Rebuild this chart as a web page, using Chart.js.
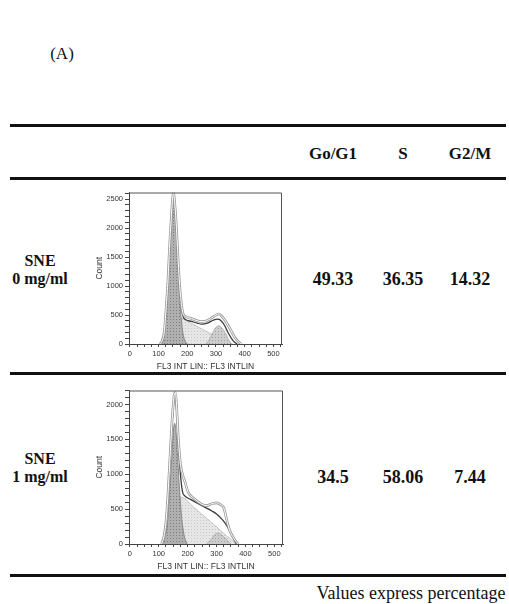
<!DOCTYPE html>
<html>
<head>
<meta charset="utf-8">
<script src="https://cdn.jsdelivr.net/npm/chart.js@4.4.1/dist/chart.umd.min.js"></script>
<style>
body { margin: 0; background: #fff; width: 509px; height: 604px; position: relative; overflow: hidden;
       font-family: "Liberation Serif", "Times New Roman", serif; color: #111; }
.t { position: absolute; white-space: nowrap; transform: translate(-50%, -50%); line-height: 1; }
.b { font-weight: bold; }
.rule { position: absolute; left: 10px; width: 496px; height: 3px; background: #111; }
canvas { position: absolute; }
</style>
</head>
<body>
<div class="t" style="left:62px;top:53px;font-size:17px">(A)</div>
<div class="rule" style="top:124px"></div>
<div class="rule" style="top:177px"></div>
<div class="rule" style="top:372px"></div>
<div class="rule" style="top:574px"></div>
<div class="t" style="left:411px;top:593px;font-size:18px">Values express percentage</div>
<div id="cells"></div>
<canvas id="hist0" width="205" height="186" style="left:85px;top:186px"></canvas>
<canvas id="hist1" width="205" height="188" style="left:85px;top:384px"></canvas>
<script>
// table text
const phases = ['Go/G1', 'S', 'G2/M'];
const samples = [['SNE', '0 mg/ml'], ['SNE', '1 mg/ml']];
const percent0 = ['49.33', '36.35', '14.32'];
const percent1 = ['34.5', '58.06', '7.44'];

// histogram points [channel, count]
// SNE 0 mg/ml
const g1Peak0 = [[108,0],[115,60],[120,180],[126,500],[133,1000],[138,1500],[144,2000],[148,2350],[152,2580],[156,2350],[161,2000],[166,1500],[171,1000],[178,500],[183,250],[190,80],[200,0]];
const sPhase0 = [[112,0],[125,80],[141,216],[160,360],[181,445],[200,395],[250,263],[300,132],[340,26],[350,0]];
const g2Peak0 = [[265,0],[275,60],[290,210],[300,290],[310,313],[320,280],[335,170],[345,70],[356,0]];
const fitLine0 = [[105,0],[112,40],[120,200],[126,560],[133,1080],[138,1600],[144,2100],[148,2420],[152,2600],[156,2400],[161,2080],[166,1620],[171,1150],[178,700],[185,480],[195,420],[215,390],[235,360],[251,342],[270,360],[290,410],[305,430],[315,415],[330,320],[340,216],[355,90],[365,30],[374,0]];
const rawLine0 = [[105,0],[112,50],[120,220],[126,600],[133,1120],[138,1650],[144,2150],[148,2460],[152,2620],[156,2450],[161,2120],[166,1660],[171,1200],[178,760],[185,530],[195,470],[215,440],[235,400],[250,388],[265,395],[285,450],[300,500],[310,519],[320,480],[335,380],[351,245],[365,120],[378,40],[388,0]];
// SNE 1 mg/ml
const g1Peak1 = [[112,0],[120,80],[130,300],[138,780],[145,1250],[150,1600],[155,1730],[160,1600],[166,1200],[172,780],[180,350],[188,120],[198,0]];
const sPhase1 = [[115,0],[130,120],[145,330],[160,520],[179,671],[220,530],[260,390],[300,246],[340,100],[370,0]];
const g2Peak1 = [[265,0],[280,60],[295,140],[305,157],[318,130],[335,60],[350,0]];
const fitLine1 = [[110,0],[118,100],[125,300],[132,700],[140,1300],[148,1850],[155,2120],[158,2150],[162,1900],[168,1400],[175,1000],[182,750],[190,690],[210,640],[240,570],[265,515],[285,470],[300,430],[320,350],[334,272],[350,150],[362,50],[369,0]];
const rawLine1 = [[110,0],[118,110],[125,320],[132,720],[140,1330],[148,1880],[154,2150],[158,2170],[162,1950],[168,1500],[175,1150],[182,1000],[190,900],[202,740],[220,660],[245,580],[265,550],[285,580],[300,590],[315,560],[325,520],[335,350],[345,200],[360,80],[375,0]];

const countMax = [2615, 2200];

// build table cells
const cells = document.getElementById('cells');
function cell(txt, x, y, size) {
    const d = document.createElement('div');
    d.className = 't b';
    d.style.left = x + 'px';
    d.style.top = y + 'px';
    d.style.fontSize = size + 'px';
    d.textContent = txt;
    cells.appendChild(d);
}
const colX = [333, 403, 470];
phases.forEach((p, i) => cell(p, colX[i], 153, 17));
[percent0, percent1].forEach((row, r) => {
    const y = r === 0 ? 279 : 477;
    row.forEach((v, i) => cell(v, colX[i], y, 18));
    cell(samples[r][0], 40, y - 18, 16);
    cell(samples[r][1], 40, y, 16);
});

function stipple(base, dot) {
    const c = document.createElement('canvas');
    c.width = 3;
    c.height = 3;
    const g = c.getContext('2d');
    g.fillStyle = base;
    g.fillRect(0, 0, 3, 3);
    g.fillStyle = dot;
    g.fillRect(1, 1, 1, 1);
    return g.createPattern(c, 'repeat');
}

const pts = arr => arr.map(p => ({x: p[0], y: p[1]}));

const frame = {
    id: 'frame',
    afterDraw(chart) {
        const a = chart.chartArea, c = chart.ctx;
        c.save();
        c.strokeStyle = '#555';
        c.lineWidth = 1;
        c.beginPath();
        c.moveTo(a.left, a.top + 0.5);
        c.lineTo(a.right - 0.5, a.top + 0.5);
        c.lineTo(a.right - 0.5, a.bottom);
        c.stroke();
        c.restore();
    },
};

const tickFont = {family: 'Liberation Sans', size: 7.5};

function showHistogram(id, yMax, g1, s, g2, fit, raw, padRight, padTop) {
    const line = {pointRadius: 0, cubicInterpolationMode: 'monotone'};
    return new Chart(document.getElementById(id), {
        type   : 'line',
        data   : {
            datasets: [
                {...line, data: pts(s), fill: 'origin', backgroundColor: stipple('#e6e6e6', '#c6c6c6'), borderColor: '#aaa', borderWidth: 0.6, order: 5},
                {...line, data: pts(g2), fill: 'origin', backgroundColor: stipple('#cdcdcd', '#a0a0a0'), borderColor: '#999', borderWidth: 0.6, order: 4},
                {...line, data: pts(g1), fill: 'origin', backgroundColor: stipple('#b0b0b0', '#7c7c7c'), borderColor: '#777', borderWidth: 0.8, order: 3},
                {...line, data: pts(fit), fill: false, borderColor: '#3a3a3a', borderWidth: 1.3, order: 2},
                {...line, data: pts(raw), fill: false, borderColor: '#999', borderWidth: 2.6, order: 1},
                {...line, data: pts(raw), fill: false, borderColor: '#fff', borderWidth: 1, order: 0},
            ],
        },
        options: {
            responsive         : false,
            animation          : false,
            devicePixelRatio   : 1,
            layout             : {padding: {top: padTop, right: padRight, left: 0, bottom: 0}},
            plugins            : {
                legend : {display: false},
                tooltip: {enabled: false},
            },
            scales             : {
                x: {
                    type    : 'linear',
                    min     : -3,
                    max     : 530,
                    afterFit: sc => { sc.height = 28; },
                    ticks   : {stepSize: 25, includeBounds: false, autoSkip: false, maxRotation: 0, font: tickFont, color: '#333', padding: 2,
                               callback: v => v % 100 === 0 ? v : ''},
                    grid    : {drawOnChartArea: false, tickLength: 3, color: '#444'},
                    border  : {color: '#444'},
                    title   : {display: true, text: 'FL3 INT LIN:: FL3 INTLIN', color: '#333',
                               font: {family: 'Liberation Sans', size: 8.5}, padding: {top: 0, bottom: 0}},
                },
                y: {
                    min     : 0,
                    max     : yMax,
                    afterFit: sc => { sc.width = 44; },
                    ticks   : {stepSize: 100, includeBounds: false, autoSkip: false, font: tickFont, color: '#333', padding: 2,
                               callback: v => v % 500 === 0 ? v : ''},
                    grid    : {drawOnChartArea: false, tickLength: 4, color: '#444'},
                    border  : {color: '#444'},
                    title   : {display: true, text: 'Count', color: '#333',
                               font: {family: 'Liberation Sans', size: 8.5}, padding: {top: 10, bottom: 0}},
                },
            },
        },
        plugins: [frame],
    });
}

showHistogram('hist0', countMax[0], g1Peak0, sPhase0, g2Peak0, fitLine0, rawLine0, 8, 6);
showHistogram('hist1', countMax[1], g1Peak1, sPhase1, g2Peak1, fitLine1, rawLine1, 7, 6);
</script>
</body>
</html>
